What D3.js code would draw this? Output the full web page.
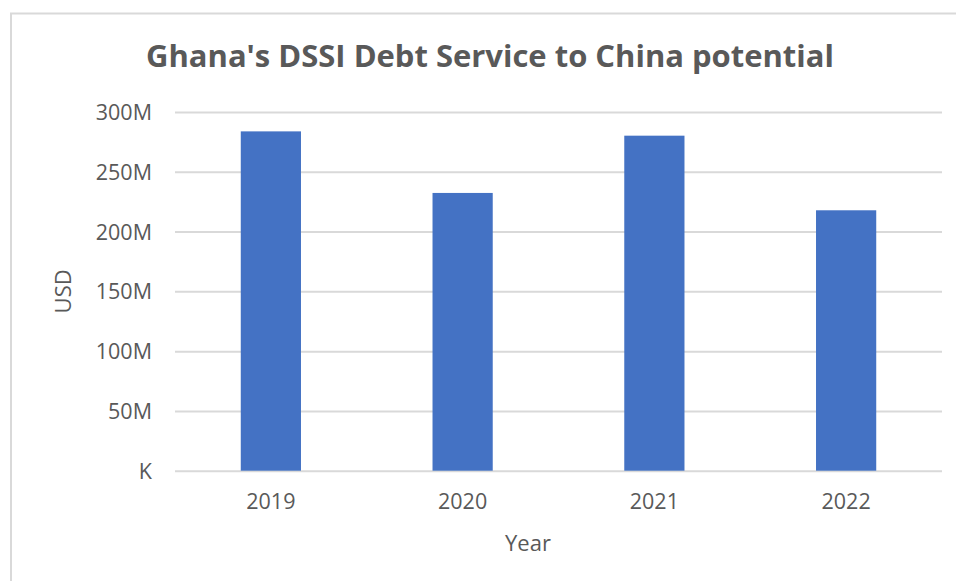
<!DOCTYPE html>
<html>
<head>
<meta charset="utf-8">
<script src="https://cdn.jsdelivr.net/npm/d3@7"></script>
<style>
  html, body { margin: 0; padding: 0; background: #ffffff; }
  svg { display: block; }
  text { font-family: "Open Sans", "Noto Sans", sans-serif; fill: #595959; }
</style>
</head>
<body>
<svg id="chart" width="956" height="581"></svg>
<script>
// Debt service owed to China under the DSSI, by year (USD millions)
const years = ["2019", "2020", "2021", "2022"];
const debtService = [283.8, 232.3, 280.2, 217.8];
const yTicks = [0, 50, 100, 150, 200, 250, 300];
const yTickLabels = ["K", "50M", "100M", "150M", "200M", "250M", "300M"];
const chartTitle = "Ghana's DSSI Debt Service to China potential";
const xTitle = "Year";
const yTitle = "USD";

const svg = d3.select("#chart");
const W = 956, H = 581;
const plot = { left: 175, right: 942, top: 112, bottom: 470.7 };

// chart frame (runs past the right and bottom edges)
svg.append("rect")
  .attr("x", 11).attr("y", 13.5)
  .attr("width", W + 20).attr("height", H + 20)
  .attr("fill", "#ffffff")
  .attr("stroke", "#d9d9d9").attr("stroke-width", 2);

const x = d3.scaleBand()
  .domain(years)
  .range([plot.left, plot.right])
  .paddingInner(0.686)
  .paddingOuter(0.343);

const y = d3.scaleLinear()
  .domain([0, 300])
  .range([plot.bottom, plot.top]);

// horizontal gridlines + value labels
const yAxis = d3.axisLeft(y)
  .tickValues(yTicks)
  .tickSize(-(plot.right - plot.left))
  .tickPadding(23)
  .tickFormat((d, i) => yTickLabels[i]);

const gy = svg.append("g")
  .attr("transform", `translate(${plot.left},0)`)
  .call(yAxis);
gy.select(".domain").remove();
gy.selectAll(".tick line").attr("stroke", "#d9d9d9").attr("stroke-width", 2);
gy.selectAll(".tick text")
  .attr("font-size", 21.5)
  .attr("fill", "#595959")
  .attr("dy", "0.35em");

// bars
svg.append("g").selectAll("rect")
  .data(years.map((yr, i) => ({ yr, v: debtService[i] })))
  .join("rect")
  .attr("x", d => x(d.yr))
  .attr("y", d => y(d.v))
  .attr("width", x.bandwidth())
  .attr("height", d => y(0) - y(d.v))
  .attr("fill", "#4472c4");

// category labels
const xAxis = d3.axisBottom(x).tickSize(0).tickPadding(0);
const gx = svg.append("g")
  .attr("transform", `translate(0,${plot.bottom})`)
  .call(xAxis);
gx.select(".domain").remove();
gx.selectAll(".tick text")
  .attr("font-size", 21.5)
  .attr("fill", "#595959")
  .attr("dy", null)
  .attr("y", 38.5);

// axis titles
svg.append("text")
  .attr("x", 528).attr("y", 550.5)
  .attr("text-anchor", "middle")
  .attr("font-size", 22)
  .text(xTitle);

svg.append("text")
  .attr("transform", `translate(70.5,${(plot.top + plot.bottom) / 2}) rotate(-90)`)
  .attr("text-anchor", "middle")
  .attr("font-size", 22)
  .text(yTitle);

// title, sized to span its line
const title = svg.append("text")
  .attr("x", 490).attr("y", 67)
  .attr("text-anchor", "middle")
  .attr("font-size", 29)
  .attr("font-weight", "bold")
  .text(chartTitle);
const tw = title.node().getComputedTextLength();
if (tw > 0) title.attr("font-size", 29 * 688 / tw);
</script>
</body>
</html>
